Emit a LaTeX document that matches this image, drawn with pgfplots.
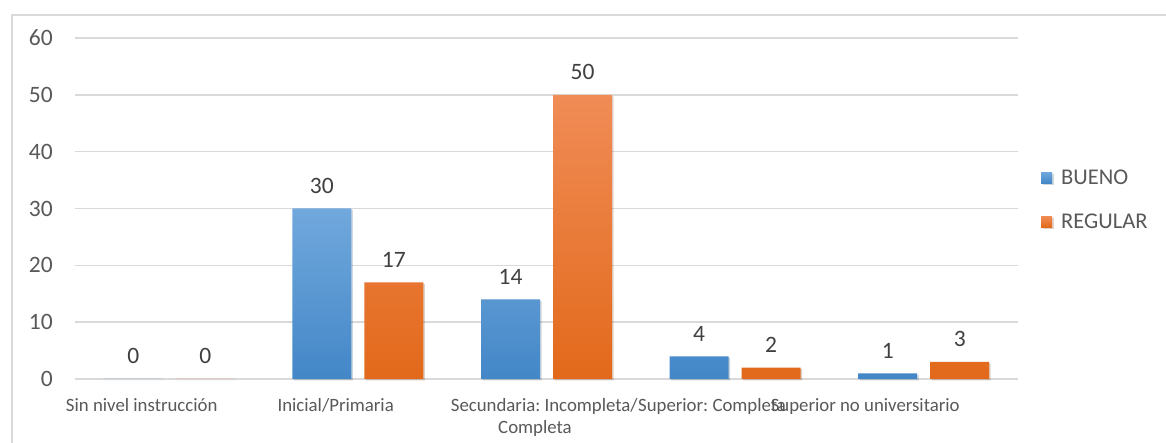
\documentclass[border=0pt]{standalone}
\usepackage{fontspec}
\setmainfont{Carlito}
\usepackage{pgfplots}
\pgfplotsset{compat=1.18}
\usetikzlibrary{shadows}
\frenchspacing

\definecolor{txt}{HTML}{595959}
\definecolor{lbl}{HTML}{404040}
\definecolor{gridc}{HTML}{D9D9D9}
\definecolor{blueTop}{HTML}{71A8DD}
\definecolor{blueMid}{HTML}{5A9BD5}
\definecolor{blueBot}{HTML}{4387C7}
\definecolor{orTop}{HTML}{F08C56}
\definecolor{orMid}{HTML}{F27C2A}
\definecolor{orBot}{HTML}{E2691B}

% nivel de instruccion (0..4), BUENO, REGULAR
\pgfplotstableread{
cat bueno regular
0   0     0
1   30    17
2   14    50
3   4     2
4   1     3
}\datatable

\newcommand{\ticksize}{\fontsize{23.5}{27}\selectfont}
\newcommand{\legsize}{\fontsize{22.5}{27}\selectfont}
\newcommand{\catsize}{\fontsize{18.8}{22}\selectfont}

\begin{document}
\begin{tikzpicture}[x=1pt,y=1pt]
\path[use as bounding box] (0,0) rectangle (1166,443);
\fill[white] (0,0) rectangle (1166,443);
\draw[gridc, line width=1.5pt] (12,-10) rectangle (1180,428);
\begin{axis}[
  at={(75pt,64pt)}, anchor=south west,
  scale only axis, width=943pt, height=341pt,
  xmin=-0.5, xmax=4.5, ymin=0, ymax=60,
  ytick={0,10,...,60}, xtick=\empty,
  ymajorgrids, grid style={gridc, line width=1.5pt},
  axis line style={draw=none}, major tick length=0pt,
  yticklabel style={anchor=east, inner sep=0pt, xshift=-22pt, font=\ticksize, text=txt},
  /pgf/number format/assume math mode=true,
  ybar=13pt, bar width=59pt,
  nodes near coords,
  nodes near coords style={anchor=south, inner sep=0pt, yshift=15pt, font=\ticksize, text=lbl},
  clip=false,
  legend cell align=left,
  legend style={draw=none, fill=none, at={(1,0.526)}, anchor=west, xshift=23pt,
    inner sep=0pt, row sep=28pt, font=\legsize, text=txt,
    nodes={inner sep=0pt}},
  legend image code/.code={\fill[#1] (0pt,-5.5pt) rectangle (11pt,5.5pt);\path (20pt,0pt);},
]
\addplot[draw=none, top color=blueTop, middle color=blueMid, bottom color=blueBot,
  drop shadow={shadow xshift=1.5pt, shadow yshift=-1.5pt, fill=black, opacity=0.12}]
  table[x=cat, y=bueno] {\datatable};
\addplot[draw=none, top color=orTop, middle color=orMid, bottom color=orBot,
  drop shadow={shadow xshift=1.5pt, shadow yshift=-1.5pt, fill=black, opacity=0.12}]
  table[x=cat, y=regular] {\datatable};
\legend{BUENO, REGULAR}

% category labels
\begin{scope}[every node/.style={inner sep=0pt, font=\catsize, text=txt}]
\node[anchor=base west] at (axis cs:-0.549,-5.80) {Sin nivel instrucción};
\node[anchor=base west] at (axis cs:0.573,-5.80) {Inicial/Primaria};
\node[anchor=base west] (secA) at (axis cs:1.492,-5.80) {Secundaria: Incompleta/};
\node[anchor=base west] at (axis cs:1.743,-9.67) {Completa};
\node[anchor=base west] at (secA.base east) {Superior: Completa};
\node[anchor=base] at (axis cs:3.69,-5.80) {Superior no universitario};
\end{scope}
\end{axis}
\end{tikzpicture}
\end{document}
